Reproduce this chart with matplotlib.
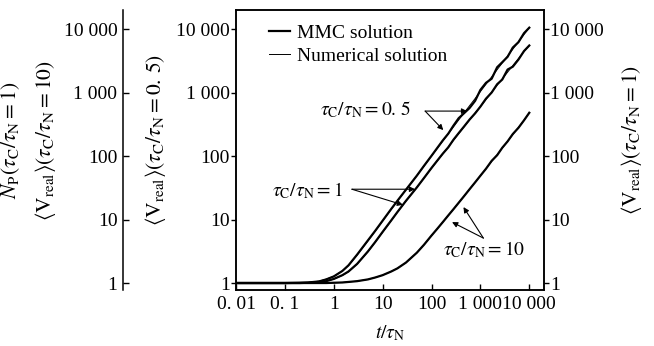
import matplotlib
matplotlib.use('Agg')
import matplotlib.pyplot as plt

plt.rcParams['font.family'] = 'serif'
plt.rcParams['font.serif'] = ['Liberation Serif', 'DejaVu Serif']
plt.rcParams['mathtext.fontset'] = 'stix'

# time grid t/tau_N
t = [0.01, 0.02, 0.05, 0.1, 0.2, 0.3, 0.5, 0.7, 1, 1.5, 2, 3, 5, 7, 10, 15, 20, 30, 50, 70,
     100, 130, 170, 220, 280, 360, 460, 600, 780, 1000, 1300, 1700, 2200, 2800, 3600,
     4600, 6000, 7800, 10000]

# tau_C/tau_N = 0.5
num_05 = [1.0, 1.0, 1.0, 1.0, 1.01, 1.02, 1.07, 1.15, 1.28, 1.55, 1.88, 2.75, 4.6, 6.5, 9.5, 14.5, 19.5, 29.5, 49, 69,
          100, 131, 172, 224, 286, 370, 475, 620, 805, 1035, 1350, 1765, 2290, 2920, 3760,
          4810, 6280, 8170, 10500]
mmc_05 = [1.0, 1.0, 1.0, 1.0, 1.01, 1.02, 1.06, 1.14, 1.27, 1.55, 1.9, 2.8, 4.7, 6.6, 9.6, 14.7, 19.7, 29.5, 49, 70,
          101, 133, 176, 225, 300, 395, 470, 570, 740, 1100, 1420, 1650, 2500, 3000, 3650,
          5100, 6200, 8600, 10500]

# tau_C/tau_N = 1
num_1 = [1.0, 1.0, 1.0, 1.0, 1.0, 1.01, 1.03, 1.07, 1.15, 1.32, 1.5, 1.98, 3.1, 4.35, 6.3, 9.6, 13.0, 19.5, 32, 45,
         64, 83, 108, 139, 176, 225, 286, 370, 478, 600, 775, 1010, 1300, 1640, 2090,
         2650, 3420, 4400, 5500]
mmc_1 = [1.0, 1.0, 1.0, 1.0, 1.0, 1.01, 1.03, 1.07, 1.16, 1.33, 1.52, 2.0, 3.15, 4.4, 6.4, 9.7, 13.1, 19.7, 32, 45,
         65, 84, 109, 137, 180, 230, 290, 375, 470, 600, 800, 1000, 1350, 1600, 2300,
         2550, 3300, 4500, 5500]

# tau_C/tau_N = 10
num_10 = [1.0, 1.0, 1.0, 1.0, 1.0, 1.0, 1.0, 1.0, 1.01, 1.02, 1.04, 1.07, 1.14, 1.22, 1.33, 1.52, 1.7, 2.1, 3.0, 4.0,
          5.6, 7.1, 9.1, 11.6, 14.5, 18.4, 23.2, 30, 38.5, 49, 63, 82, 105, 133, 170,
          217, 282, 365, 480]
mmc_10 = [1.0, 1.0, 1.0, 1.0, 1.0, 1.0, 1.0, 1.0, 1.01, 1.02, 1.04, 1.07, 1.14, 1.22, 1.33, 1.52, 1.7, 2.1, 3.0, 4.0,
          5.6, 7.1, 9.1, 11.6, 14.5, 18.4, 23.2, 30, 38.5, 49, 63, 84, 103, 135, 170,
          222, 278, 365, 480]

xticks = [0.01, 0.1, 1, 10, 100, 1000, 10000]
xticklabels = ['0. 01', '0. 1', '1', '10', '100', '1 000', '10 000']
yticks = [1, 10, 100, 1000, 10000]
yticklabels = ['1', '10', '100', '1 000', '10 000']

fs = 14
lfs = 15.5
fig = plt.figure(figsize=(6.54, 3.46), dpi=100)
ax = fig.add_axes([0.3609, 0.1618, 0.4709, 0.8092])

ax.plot(t, mmc_05, color='k', lw=1.6, label='MMC solution')
ax.plot(t, num_05, color='k', lw=0.7, label='Numerical solution')
ax.plot(t, mmc_1, color='k', lw=1.6)
ax.plot(t, num_1, color='k', lw=0.7)
ax.plot(t, mmc_10, color='k', lw=1.6)
ax.plot(t, num_10, color='k', lw=0.7)

ax.set_xscale('log')
ax.set_yscale('log')
ax.set_xlim(0.01, 2.0e4)
ax.set_ylim(0.776, 1.99e4)
ax.set_xticks(xticks)
ax.set_xticklabels(xticklabels)
ax.set_yticks(yticks)
ax.set_yticklabels(yticklabels)
ax.minorticks_off()
ax.tick_params(axis='x', direction='in', length=4, width=1, pad=4, labelsize=fs)
ax.tick_params(axis='y', direction='out', length=3.5, width=1, pad=1, labelsize=fs)
for s in ax.spines.values():
    s.set_linewidth(1.1)

# right axis
axr = ax.twinx()
axr.set_yscale('log')
axr.set_ylim(ax.get_ylim())
axr.set_yticks(yticks)
axr.set_yticklabels(yticklabels)
axr.minorticks_off()
axr.tick_params(axis='y', direction='out', length=3.5, width=1, pad=1, labelsize=fs)
for s in axr.spines.values():
    s.set_linewidth(1.1)

# outer left axis
axo = fig.add_axes([123 / 654, 0.1618, 0.001, 0.8092])
axo.set_yscale('log')
axo.set_ylim(ax.get_ylim())
axo.set_yticks(yticks)
axo.set_yticklabels(yticklabels)
axo.minorticks_off()
axo.set_xticks([])
for k in ['top', 'right', 'bottom']:
    axo.spines[k].set_visible(False)
axo.spines['left'].set_linewidth(1.1)
axo.patch.set_visible(False)
axo.tick_params(axis='y', direction='in', length=4.5, width=1, pad=4, labelsize=fs)

leg = ax.legend(loc='upper left', bbox_to_anchor=(0.075, 0.985), frameon=False, fontsize=fs,
                borderpad=0, handlelength=1.1, handletextpad=0.35, labelspacing=0.3)

# annotations
arr = dict(arrowstyle='-|>', lw=0.8, color='k', mutation_scale=8, shrinkA=0, shrinkB=0)
ax.text(4.4, 530, r'$\tau_{\rm C}/\tau_{\rm N}=0.\,5$', fontsize=fs, ha='center', va='center')
ax.annotate('', xy=(535, 510), xytext=(74, 510), arrowprops=arr)
ax.annotate('', xy=(174, 256), xytext=(74, 510), arrowprops=arr)

ax.text(0.295, 29, r'$\tau_{\rm C}/\tau_{\rm N}=1$', fontsize=fs, ha='center', va='center')
ax.annotate('', xy=(46, 30), xytext=(2.35, 30), arrowprops=arr)
ax.annotate('', xy=(26, 17), xytext=(2.35, 30), arrowprops=arr)

ax.text(1200, 3.3, r'$\tau_{\rm C}/\tau_{\rm N}=10$', fontsize=fs, ha='center', va='center')
ax.annotate('', xy=(450, 15.7), xytext=(1150, 5.1), arrowprops=arr)
ax.annotate('', xy=(263, 9.1), xytext=(1150, 5.1), arrowprops=arr)

# axis labels
yc = 0.595
fig.text(0.0165, yc, r'$N_{\rm P}(\tau_{\rm C}/\tau_{\rm N}=1)$', rotation=90, ha='center', va='center', fontsize=lfs)
fig.text(0.070, yc, r'$\langle \mathrm{V}_{\rm real}\rangle(\tau_{\rm C}/\tau_{\rm N}=10)$', rotation=90, ha='center', va='center', fontsize=lfs)
fig.text(0.2385, yc, r'$\langle \mathrm{V}_{\rm real}\rangle(\tau_{\rm C}/\tau_{\rm N}=0.\,5)$', rotation=90, ha='center', va='center', fontsize=lfs)
fig.text(0.966, yc, r'$\langle \mathrm{V}_{\rm real}\rangle(\tau_{\rm C}/\tau_{\rm N}=1)$', rotation=90, ha='center', va='center', fontsize=lfs)
fig.text(0.596, 0.038, r'$t/\tau_{\rm N}$', ha='center', va='center', fontsize=fs)

fig.savefig('out.png', dpi=100)
